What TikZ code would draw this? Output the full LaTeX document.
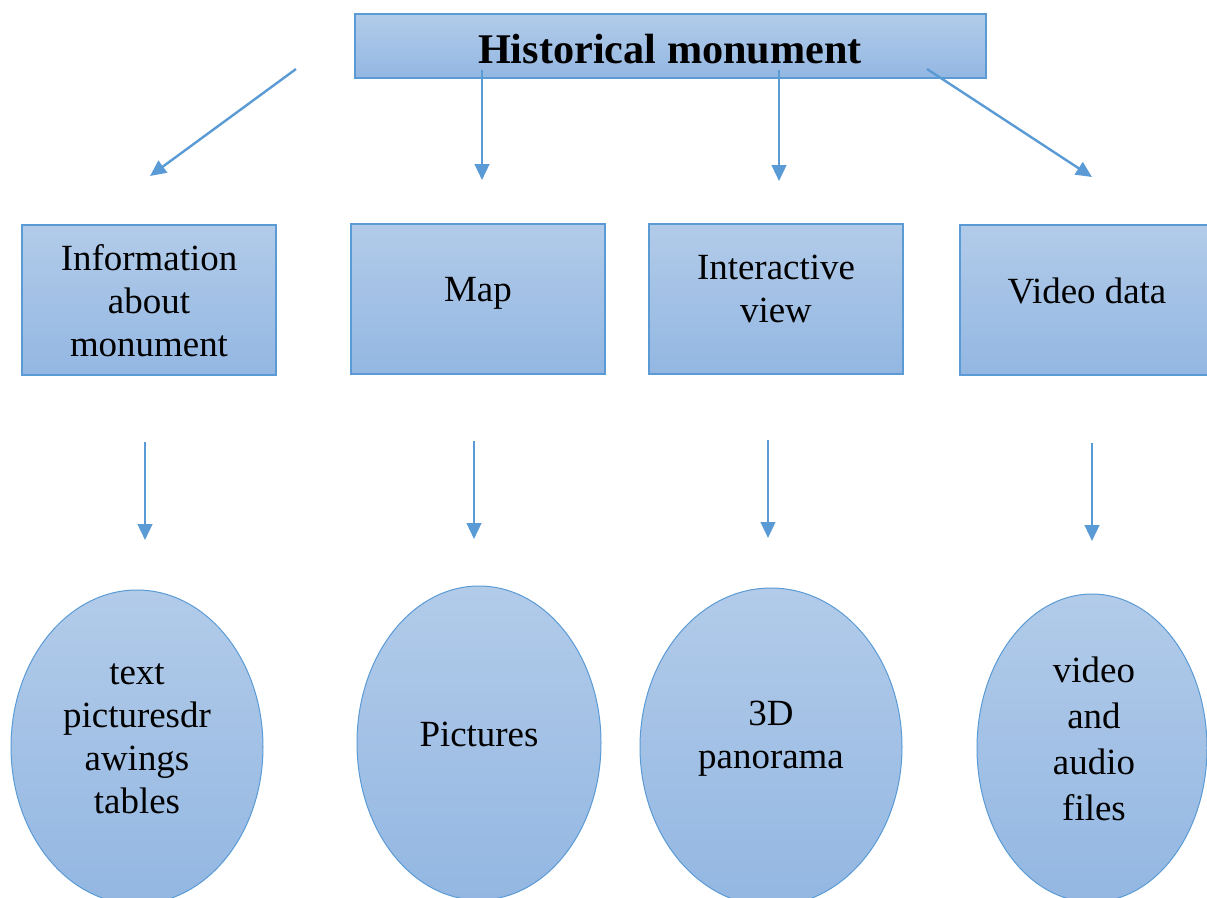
\documentclass[tikz,border=0pt]{standalone}
\usepackage{fontspec}
\setmainfont{Liberation Serif}
\usetikzlibrary{shapes.geometric,arrows.meta}
\definecolor{gtop}{RGB}{178,203,233}
\definecolor{gbot}{RGB}{147,183,226}
\definecolor{edge}{RGB}{91,155,213}
\begin{document}
\begin{tikzpicture}[x=0.75pt,y=-0.75pt,
  boxshape/.style={draw=edge,line width=0.9pt,rectangle,inner sep=0pt,top color=gtop,bottom color=gbot},
  ovalshape/.style={draw=edge,line width=0.75pt,ellipse,inner sep=0pt,top color=gtop,bottom color=gbot},
  lbl/.style={align=center,inner sep=0pt,font=\fontsize{27.7}{32.3}\selectfont},
  arr/.style={draw=edge,line width=1.8pt,-{Triangle[length=12pt,width=11pt]}}]
\useasboundingbox (0,0) rectangle (1207,897);
\clip (0,0) rectangle (1207,897);
% top box
\node[boxshape,minimum width=631*0.75pt,minimum height=64*0.75pt] (top) at (670.5,46) {};
\node[inner sep=0pt,font=\fontsize{31.7}{36}\selectfont\bfseries] (toptxt) at (670,49) {Historical monument};
% second row boxes
\node[boxshape,minimum width=254*0.75pt,minimum height=150*0.75pt] (b1) at (149,300) {};
\node[boxshape,minimum width=254*0.75pt,minimum height=150*0.75pt] (b2) at (478,299) {};
\node[boxshape,minimum width=254*0.75pt,minimum height=150*0.75pt] (b3) at (776,299) {};
\node[boxshape,minimum width=254*0.75pt,minimum height=150*0.75pt] (b4) at (1087,300) {};
\node[lbl] (t1) at (149,301) {Information\\about\\monument};
\node[lbl] (t2) at (478,293) {Map};
\node[lbl] (t3) at (776,289) {Interactive\\view};
\node[lbl] (t4) at (1087,291) {Video data};
% ellipses
\node[ovalshape,minimum width=252*0.75pt,minimum height=314*0.75pt] (e1) at (137,747) {};
\node[ovalshape,minimum width=244*0.75pt,minimum height=314*0.75pt] (e2) at (479,743) {};
\node[ovalshape,minimum width=262*0.75pt,minimum height=318*0.75pt] (e3) at (771,747) {};
\node[ovalshape,minimum width=230*0.75pt,minimum height=308*0.75pt] (e4) at (1092,748) {};
\node[lbl] (u1) at (137,739) {text\\picturesdr\\awings\\tables};
\node[lbl] (u2) at (479,734) {Pictures};
\node[lbl] (u3) at (771,739) {3D\\panorama};
\node[lbl,font=\fontsize{27.7}{34.5}\selectfont] (u4) at (1094,739) {video\\and\\audio\\files};
% arrow end points
\coordinate (s1) at (296,69);  \coordinate (f1) at (150,176);
\coordinate (s2) at (482,70);  \coordinate (f2) at (482,180);
\coordinate (s3) at (779,70);  \coordinate (f3) at (779,181);
\coordinate (s4) at (927,69);  \coordinate (f4) at (1092,177);
\coordinate (p1) at (145,442); \coordinate (q1) at (145,540);
\coordinate (p2) at (474,441); \coordinate (q2) at (474,539);
\coordinate (p3) at (768,440); \coordinate (q3) at (768,538);
\coordinate (p4) at (1092,443); \coordinate (q4) at (1092,541);
\draw[arr] (s1) -- (f1);
\draw[arr] (s2) -- (f2);
\draw[arr] (s3) -- (f3);
\draw[arr] (s4) -- (f4);
\draw[arr] (p1) -- (q1);
\draw[arr] (p2) -- (q2);
\draw[arr] (p3) -- (q3);
\draw[arr] (p4) -- (q4);
\end{tikzpicture}
\end{document}
